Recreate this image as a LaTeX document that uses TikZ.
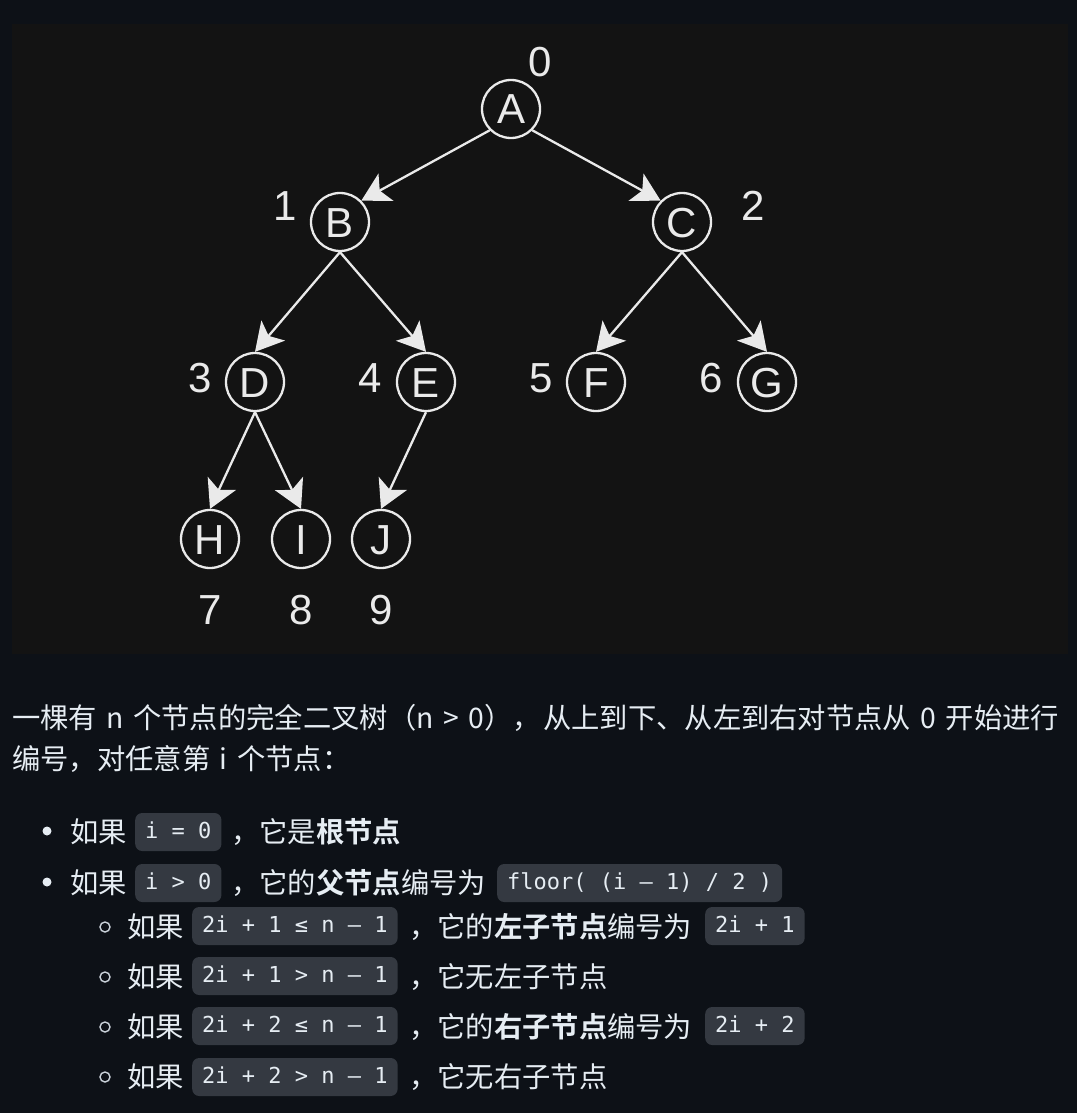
\documentclass[tikz,border=0pt]{standalone}
\usepackage{fontspec}
\setmainfont{Liberation Sans}
\newfontfamily\cjk{Noto Sans CJK SC}[BoldFont={Noto Sans CJK SC Bold}, WordSpace=1.5]
\newfontfamily\mono{DejaVu Sans Mono}
\usetikzlibrary{arrows.meta}
\definecolor{pagebg}{HTML}{0D1117}
\definecolor{imgbg}{HTML}{131313}
\definecolor{treec}{HTML}{EAEAEA}
\definecolor{fg}{HTML}{E6EDF3}
\definecolor{codebg}{HTML}{343941}
\definecolor{bulletc}{HTML}{C9D1D9}
\tikzset{
  tnode/.style={circle, draw=treec, line width=2.3pt, minimum size=58pt, inner sep=0pt,
    text=treec, font=\fontsize{42}{50}\selectfont, text height=30pt, text depth=0pt},
  tlabel/.style={inner sep=0pt, text=treec, font=\fontsize{42}{50}\selectfont, text height=30pt, text depth=0pt},
  edge/.style={draw=treec, line width=2.3pt, -{Stealth[length=28pt, width=31pt, inset=7pt]}},
  txt/.style={inner sep=0pt, anchor=base west, text=fg, font=\cjk\fontsize{28.3}{34}\selectfont},
  code/.style={fill=codebg, rounded corners=7pt, anchor=west, inner xsep=10pt, inner ysep=0pt,
    minimum height=38pt, text height=16pt, text depth=4pt, text=fg, font=\mono\fontsize{22}{26}\selectfont},
  dotbul/.style={circle, fill=fg, inner sep=0pt, minimum size=9pt},
  ringbul/.style={circle, draw=bulletc, line width=1.4pt, inner sep=0pt, minimum size=10pt}
}
\begin{document}
\begin{tikzpicture}[x=1pt, y=-1pt]
\useasboundingbox (0,0) rectangle (1077,1113);
\fill[pagebg] (0,0) rectangle (1077,1113);
\fill[imgbg] (12,24) rectangle (1068,654);

% tree nodes
\node[tnode] (A) at (511,109) {A};
\node[tnode] (B) at (340,222) {B};
\node[tnode] (C) at (682,222) {C};
\node[tnode] (D) at (255,382) {D};
\node[tnode] (E) at (426,382) {E};
\node[tnode] (F) at (596,382) {F};
\node[tnode] (G) at (767,382) {G};
\node[tnode] (H) at (210,539) {H};
\node[tnode] (I) at (301,539) {I};
\node[tnode] (J) at (381,539) {J};

% index labels
\node[tlabel] (l0) at (540,62) {0};
\node[tlabel] (l1) at (285,205) {1};
\node[tlabel] (l2) at (753,205) {2};
\node[tlabel] (l3) at (200,377) {3};
\node[tlabel] (l4) at (370,377) {4};
\node[tlabel] (l5) at (541,377) {5};
\node[tlabel] (l6) at (711,377) {6};
\node[tlabel] (l7) at (210,609) {7};
\node[tlabel] (l8) at (301,609) {8};
\node[tlabel] (l9) at (381,609) {9};

% edges
\draw[edge] (A.south west) -- (B.north east);
\draw[edge] (A.south east) -- (C.north west);
\draw[edge] (B.south) -- (D.north);
\draw[edge] (B.south) -- (E.north);
\draw[edge] (C.south) -- (F.north);
\draw[edge] (C.south) -- (G.north);
\draw[edge] (D.south) -- (H.north);
\draw[edge] (D.south) -- (I.north);
\draw[edge] (E.south) -- (J.north);

% paragraph
\node[txt] (p1) at (12,728) {一棵有 n 个节点的完全二叉树（n > 0），};
\node[txt] (p2) at (543,728) {从上到下、从左到右对节点从 0 开始进行};
\node[txt] (p3) at (12,769) {编号，对任意第 i 个节点：};

% row 1
\node[dotbul] (b1) at (47,831) {};
\node[txt] (r1a) at (70,842) {如果};
\node[code] (r1b) at (135,832) {i = 0};
\node[txt] (r1c) at (231,842) {，它是\textbf{根节点}};

% row 2
\node[dotbul] (b2) at (47,882) {};
\node[txt] (r2a) at (70,893) {如果};
\node[code] (r2b) at (135,883) {i > 0};
\node[txt] (r2c) at (231,893) {，它的\textbf{父节点}编号为};
\node[code] (r2d) at (497,883) {floor( (i – 1) / 2 )};

% sub row 1
\node[ringbul] (s1) at (105,927) {};
\node[txt] (s1a) at (127,937) {如果};
\node[code] (s1b) at (192,926) {2i + 1 ≤ n – 1};
\node[txt] (s1c) at (409,937) {，它的\textbf{左子节点}编号为};
\node[code] (s1d) at (705,926) {2i + 1};

% sub row 2
\node[ringbul] (s2) at (105,977) {};
\node[txt] (s2a) at (127,987) {如果};
\node[code] (s2b) at (192,976) {2i + 1 > n – 1};
\node[txt] (s2c) at (409,987) {，它无左子节点};

% sub row 3
\node[ringbul] (s3) at (105,1027) {};
\node[txt] (s3a) at (127,1037) {如果};
\node[code] (s3b) at (192,1026) {2i + 2 ≤ n – 1};
\node[txt] (s3c) at (409,1037) {，它的\textbf{右子节点}编号为};
\node[code] (s3d) at (705,1026) {2i + 2};

% sub row 4
\node[ringbul] (s4) at (105,1077) {};
\node[txt] (s4a) at (127,1087) {如果};
\node[code] (s4b) at (192,1077) {2i + 2 > n – 1};
\node[txt] (s4c) at (409,1087) {，它无右子节点};
\end{tikzpicture}
\end{document}
